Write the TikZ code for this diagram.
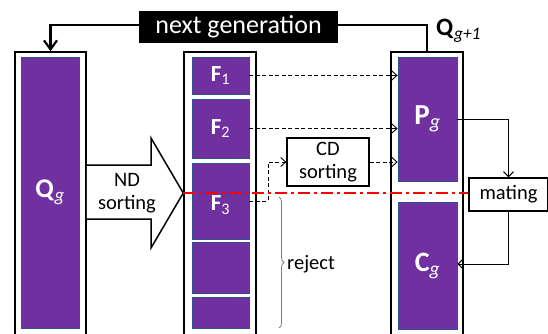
\documentclass[tikz,border=0pt]{standalone}
\usepackage{fontspec}
\setmainfont{Carlito}
\usetikzlibrary{arrows.meta,decorations.pathreplacing,calc}
\definecolor{purp}{HTML}{7030A0}
\definecolor{pedge}{HTML}{2F528F}
\definecolor{redl}{HTML}{FF0000}
\definecolor{brgray}{HTML}{7F7F7F}
\begin{document}
\begin{tikzpicture}[x=1pt,y=-1pt,
  outer/.style={draw=black,line width=1.5pt,fill=white,inner sep=0pt},
  pbox/.style={draw=pedge,line width=0.8pt,fill=purp,inner sep=0pt,text=white},
  flabel/.style={font=\fontsize{23}{27}\selectfont\bfseries},
  txt/.style={font=\fontsize{20.5}{24}\selectfont,align=center,inner sep=0pt},
  plainbox/.style={draw=black,line width=1.2pt,fill=white,inner sep=0pt,font=\fontsize{20.5}{24}\selectfont,align=center},
  dasharrow/.style={draw=black,line width=0.9pt,dash pattern=on 4pt off 2.5pt,-{Straight Barb[length=5pt,width=9pt]}},
  thinarrow/.style={draw=black,line width=1pt,-{Straight Barb[length=5pt,width=10pt]}},
  thickline/.style={draw=black,line width=2.2pt},
  redline/.style={draw=redl,line width=2pt,dash pattern=on 12pt off 4pt on 3pt off 4pt}
]
\useasboundingbox (0,0) rectangle (548,334);

% outer population boxes
\node[outer,minimum width=71pt,minimum height=293pt] (Qbox) at (50.5,198.5) {};
\node[outer,minimum width=72pt,minimum height=293pt] (Mbox) at (220,198.5) {};
\node[outer,minimum width=72pt,minimum height=293pt] (Rbox) at (427,198.5) {};

% purple blocks
\node[pbox,minimum width=58pt,minimum height=271pt,font=\fontsize{27}{30}\selectfont] (Qin) at (50,192.5) {\textbf{Q}\textsubscript{\itshape g}};
\node[pbox,flabel,minimum width=57pt,minimum height=37pt] (F1) at (220.5,75.5) {F\textsubscript{\mdseries 1}};
\node[pbox,flabel,minimum width=57pt,minimum height=59pt] (F2) at (220.5,128.5) {F\textsubscript{\mdseries 2}};
\node[pbox,minimum width=57pt,minimum height=76pt] (F3) at (220.5,201) {};
\node[pbox,minimum width=57pt,minimum height=51pt] (F4) at (220.5,267.5) {};
\node[pbox,minimum width=57pt,minimum height=31pt] (F5) at (220.5,312.5) {};
\node[pbox,minimum width=59pt,minimum height=124pt,font=\fontsize{29}{32}\selectfont] (Pg) at (427.5,119) {\textbf{P}\textsubscript{\itshape g}};
\node[pbox,minimum width=59pt,minimum height=127pt,font=\fontsize{28}{32}\selectfont] (Cg) at (427.5,266) {\textbf{C}\textsubscript{\itshape g}};

% next generation
\node[fill=black,text=white,minimum width=199pt,minimum height=32pt,inner sep=0pt,font=\fontsize{26}{30}\selectfont] (NG) at (238.5,27) {next generation};
\draw[thickline,-{Straight Barb[length=9pt,width=13pt]}] ($(NG.west)+(0,-2)$) -| (Qbox.north);
\draw[thickline] ($(NG.east)+(0,-2)$) -| (Rbox.north);
\node[anchor=west,inner sep=0pt,font=\fontsize{25}{28}\selectfont] (Qnext) at (436,31) {\textbf{Q}\textsubscript{\itshape g+1}};

% ND sorting block arrow
\draw[line width=1.5pt,fill=white,line join=miter] (Qbox.east |- 0,165) -- (151,165) -- (151,138) -- (Mbox.west |- 0,193) -- (151,248) -- (151,219) -- (Qbox.east |- 0,219);
\node[txt] (ND) at (127,193) {ND\\[-1pt]sorting};

% CD sorting
\node[plainbox,minimum width=82pt,minimum height=48pt] (CD) at (328,162) {CD\\[-1pt]sorting};

% dashed transfers
\draw[dasharrow] (F1.east) -- (F1.east -| Pg.west);
\draw[dasharrow] (F2.east) -- (F2.east -| Pg.west);
\draw[dasharrow] (CD.east) -- (CD.east -| Pg.west);
\coordinate (k) at (268,201);
\draw[dasharrow] (F3.east) -- (k) |- (CD.west);

% mating
\node[plainbox,minimum width=79pt,minimum height=33pt] (mating) at (508.5,194.5) {mating};
\draw[thinarrow] (Pg.east) -| (mating.north);
\draw[thinarrow] (mating.south) |- ([yshift=2pt]Cg.east);

% red cut line
\draw[redline] (Mbox.west |- 0,193) -- (mating.west |- 0,193);

% F3 label on top
\node[flabel,text=white,inner sep=0pt] (F3l) at (220.5,205) {F\textsubscript{\mdseries 3}};

% reject brace
\coordinate (bt) at (279,197);
\coordinate (bb) at (279,328);
\draw[brgray,line width=0.8pt,decorate,decoration={brace,amplitude=5pt}] (bt) -- (bb);
\node[txt,anchor=west] (rej) at (287,264) {reject};
\end{tikzpicture}
\end{document}
